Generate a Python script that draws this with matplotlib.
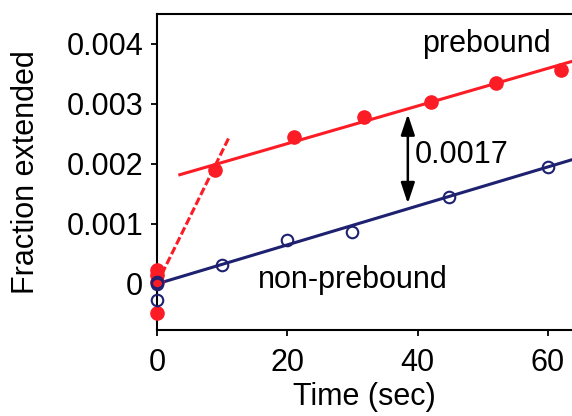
import matplotlib
matplotlib.use("Agg")
import matplotlib.pyplot as plt
import numpy as np

plt.rcParams["font.family"] = ["Liberation Sans", "DejaVu Sans"]

RED = "#fb1c26"
NAVY = "#1d2170"

# prebound (filled red)
pre_t = [0, 0, 0, 0, 8.9, 21, 31.8, 42, 52, 62]
pre_y = [0.00023, 0.00015, 0.00003, -0.00049, 0.0019, 0.00245, 0.00278, 0.00303, 0.00335, 0.00357]

# non-prebound (open navy)
non_t = [0, 0, 0, 10, 20, 30, 44.8, 60]
non_y = [0.00003, -0.00001, -0.00027, 0.00032, 0.00073, 0.00087, 0.00145, 0.00195]

# fitted lines: (intercept, slope, t_start, t_end)
pre_fit = (0.00171, 0.0000314, 3.5, 64)
non_fit = (0.0, 0.0000325, 0, 64)
burst_fit = (0.0, 0.000221, 0, 11)

xticks = [0, 20, 40, 60]
yticks = [0, 0.001, 0.002, 0.003, 0.004]
ytick_labels = ["0", "0.001", "0.002", "0.003", "0.004"]

fig = plt.figure(figsize=(5.72, 4.16), dpi=100)
ax = fig.add_axes([0.2745, 0.2067, 0.7255, 0.7596])


def fit_line(fit):
    b, m, t0, t1 = fit
    t = np.array([t0, t1])
    return t, b + m * t


t, y = fit_line(burst_fit)
ax.plot(t, y, color=RED, lw=2.2, ls=(0, (2.6, 1.0)), clip_on=False)
t, y = fit_line(pre_fit)
ax.plot(t, y, color=RED, lw=2.2)
t, y = fit_line(non_fit)
ax.plot(t, y, color=NAVY, lw=2.2)

ax.plot(pre_t, pre_y, "o", color=RED, ms=9.5, clip_on=False, zorder=4)
ax.plot(non_t, non_y, "o", mfc="none", mec=NAVY, mew=1.5, ms=8.3, clip_on=False, zorder=5)

ax.annotate("", xy=(38.5, 0.00134), xytext=(38.5, 0.00283),
            arrowprops=dict(arrowstyle="<|-|>,head_length=0.9,head_width=0.3",
                            color="black", lw=1.8,
                            mutation_scale=14, shrinkA=0, shrinkB=0))
ax.text(39.6, 0.00202, "0.0017", fontsize=22, va="baseline", ha="left")
ax.text(40.7, 0.00387, "prebound", fontsize=22, va="baseline", ha="left")
ax.text(15.5, -0.00007, "non-prebound", fontsize=22, va="baseline", ha="left")

ax.set_xlim(0, 63.7)
ax.set_ylim(-0.00077, 0.0045)
ax.set_xticks(xticks)
ax.set_yticks(yticks)
ax.set_yticklabels(ytick_labels)
ax.tick_params(labelsize=22, direction="out", length=4, width=1.3, pad=6)
ax.tick_params(axis="x", pad=9)
ax.spines["right"].set_visible(False)
for s in ("left", "top", "bottom"):
    ax.spines[s].set_linewidth(1.5)

ax.set_xlabel("Time (sec)", fontsize=22, labelpad=3)
ax.set_ylabel("Fraction extended", fontsize=22, labelpad=18)

fig.savefig("out.png", dpi=100)
